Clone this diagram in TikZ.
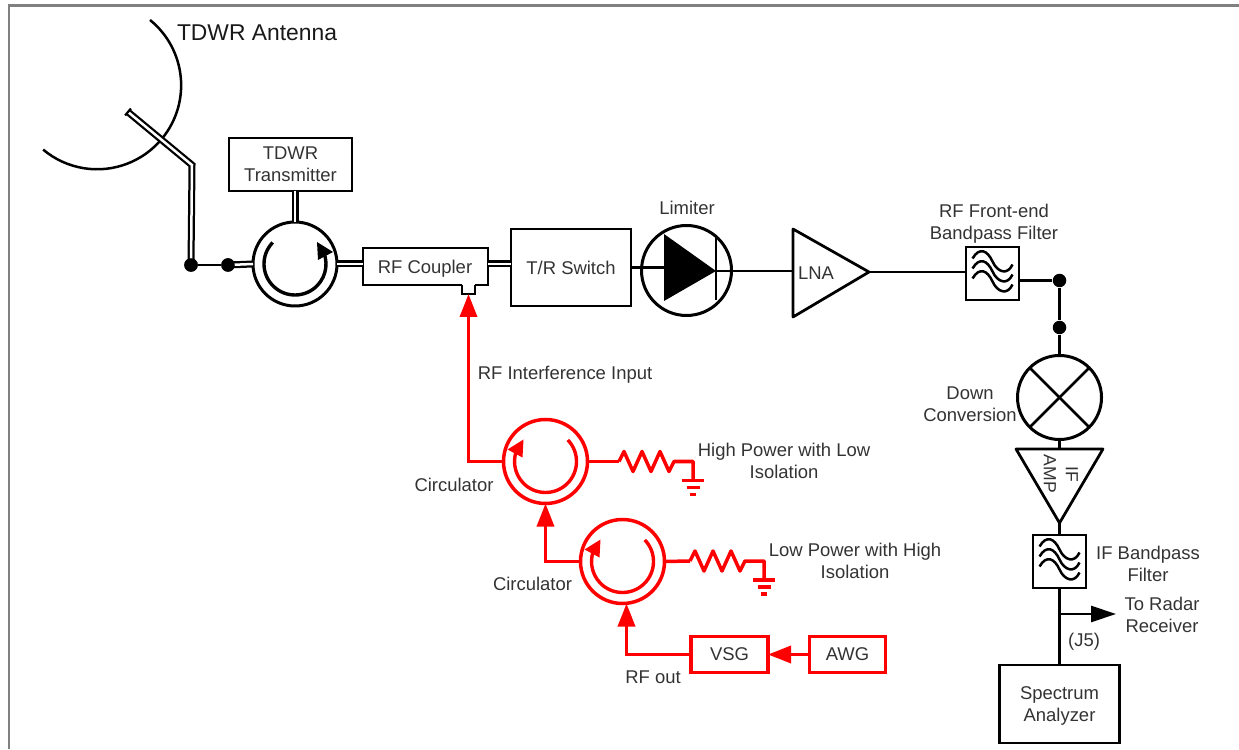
\documentclass[tikz,border=0pt]{standalone}
\usepackage{fontspec}
\setmainfont{Liberation Sans}
\usetikzlibrary{arrows.meta}
\begin{document}
\begin{tikzpicture}
\tikzset{label/.style = {align=center,inner sep=0pt,text=black!80,font=\fontsize{10.5}{12.5}\selectfont}}
\tikzset{box/.style = {shape=rectangle,draw,line width=.055cm,outer sep=0pt,text=black!80,align=center,font=\fontsize{10.5}{12.5}\selectfont}}
\tikzset{ring/.style = {shape=circle,draw,line width=.06cm,inner sep=0pt,outer sep=0pt,minimum size=1.68cm}}
\tikzset{dot/.style = {shape=circle,fill,inner sep=0pt,minimum size=.27cm}}
\tikzset{wire/.style = {line width=.055cm}}
\tikzset{waveguide/.style = {line width=.045cm,double,double distance=.05cm}}
\tikzset{signal/.style = {red,line width=.07cm,-{Triangle[length=.46cm,width=.34cm]}}}
\tikzset{ringarrow/.pic = {
  \draw[line width=.068cm] (136:.62) arc[start angle=136,end angle=390,radius=.62];
  \fill (.44,.44) -- (.76,.24) -- (.46,.08) -- cycle;}}
\tikzset{waves/.pic = {
  \foreach \d in {-.2,0,.2}
    \draw[line width=.05cm] (-.4,.1+\d) .. controls (-.26,.34+\d) and (-.1,.26+\d) .. (0,.04+\d)
      .. controls (.1,-.18+\d) and (.3,-.24+\d) .. (.4,-.02+\d);}}
\tikzset{loadgnd/.pic = {
  \draw[line width=.07cm,line join=round] (0,0) -- (.1,.2) -- (.28,-.2) -- (.46,.2) -- (.64,-.2) -- (.82,.2) -- (1,-.2) -- (1.1,0) -- (1.48,0) -- (1.48,-.38);
  \draw[line width=.07cm] (1.26,-.38) -- (1.7,-.38);
  \draw[line width=.07cm] (1.35,-.52) -- (1.61,-.52);
  \draw[line width=.07cm] (1.42,-.66) -- (1.54,-.66);}}
\useasboundingbox (0,0) rectangle (24.78,14.98);
% frame
\coordinate (fa) at (.18,0);
\coordinate (fb) at (.18,14.87);
\coordinate (fc) at (24.78,14.87);
\draw[gray,line width=.05cm] (fa) -- (fb) -- (fc);
% blocks
\node[dot] (d1) at (3.82,9.68) {};
\node[dot] (d2) at (4.56,9.68) {};
\node[ring] (circ) at (5.9,9.7) {};
\node[box,minimum width=2.46cm,minimum height=1.06cm] (tx) at (5.81,11.69) {TDWR\\Transmitter};
\node[box,minimum width=2.5cm,minimum height=.74cm] (coupler) at (8.51,9.65) {};
\node[fill=white,inner sep=0pt,outer sep=0pt,minimum width=.26cm,minimum height=.26cm] (port) at (9.37,9.23) {};
\node[box,minimum width=2.4cm,minimum height=1.54cm] (tr) at (11.42,9.63) {T/R Switch};
\node[ring,minimum size=1.8cm] (lim) at (13.73,9.57) {};
\node[box,inner sep=0pt,minimum size=1.06cm] (rfbpf) at (19.85,9.51) {};
\node[dot] (d3) at (21.19,9.37) {};
\node[dot] (d4) at (21.19,8.43) {};
\node[ring] (mix) at (21.19,7.03) {};
\node[box,inner sep=0pt,minimum size=1.06cm] (ifbpf) at (21.19,3.75) {};
\node[box,minimum width=2.4cm,minimum height=1.56cm] (sa) at (21.19,.9) {};
\node[ring,red,line width=.07cm] (circa) at (10.91,5.75) {};
\node[ring,red,line width=.07cm] (circb) at (12.45,3.75) {};
\node[box,red,line width=.065cm,minimum width=1.54cm,minimum height=.71cm,text=black!80] (vsg) at (14.59,1.89) {VSG};
\node[box,red,line width=.065cm,minimum width=1.53cm,minimum height=.71cm,text=black!80] (awg) at (16.95,1.89) {AWG};
% free ends and corners
\coordinate (feedtip) at (2.56,12.74);
\coordinate (feedbend) at (3.84,11.68);
\coordinate (dback) at (13.28,9.56);
\coordinate (dtop) at (13.28,10.3);
\coordinate (dlow) at (13.28,8.96);
\coordinate (dtip) at (14.32,9.56);
\coordinate (ltop) at (15.86,10.4);
\coordinate (llow) at (15.86,8.64);
\coordinate (ltip) at (17.38,9.54);
\coordinate (atop) at (20.32,6);
\coordinate (btop) at (22.06,6);
\coordinate (amptip) at (21.19,4.52);
\coordinate (ampin) at (21.19,6);
\coordinate (branch) at (21.19,2.7);
\coordinate (radar) at (22.32,2.7);
\coordinate (loada) at (12.38,5.75);
\coordinate (loadb) at (13.8,3.76);
% symbols
\draw[line width=.05cm] (3,14.58) arc[start angle=51,end angle=-130,radius=1.68];
\pic at (circ) {ringarrow};
\draw[line width=.055cm] (port.west |- coupler.south) -- (port.south west) -- (port.south east) -- (port.east |- coupler.south);
\fill (dtop) -- (dlow) -- (dtip) -- cycle;
\draw[wire] (14.32,10.28) -- (14.32,8.98);
\draw[line width=.055cm,line join=round] (ltop) -- (llow) -- (ltip) -- cycle;
\node[label] (lna) at (16.32,9.52) {LNA};
\pic at (rfbpf) {waves};
\pic at (ifbpf) {waves};
\draw[wire] (mix.45) -- (mix.225);
\draw[wire] (mix.135) -- (mix.315);
\draw[line width=.055cm,line join=round] (atop) -- (btop) -- (amptip) -- cycle;
\node[label,rotate=-90,font=\fontsize{10}{12.5}\selectfont] (amp) at (21.22,5.5) {IF\\AMP};
\pic[red,xscale=-1] at (circa) {ringarrow};
\pic[red,xscale=-1] at (circb) {ringarrow};
\pic[red] at (loada) {loadgnd};
\pic[red] at (loadb) {loadgnd};
% connectors
\draw[waveguide] (feedtip) -- (feedbend) -- (d1.center);
\draw[line width=.045cm] ([shift={(.058,.069)}]feedtip) -- ([shift={(-.058,-.069)}]feedtip);
\draw[waveguide] (d2.center) -- (circ.west);
\node[dot] (d1top) at (d1) {};
\node[dot] (d2top) at (d2) {};
\draw[wire] (d1) -- (d2);
\draw[waveguide] (circ.north |- tx.south) -- (circ.north);
\draw[waveguide] (circ.east) -- (coupler.west |- circ.east);
\draw[waveguide] (coupler.east |- circ.east) -- (tr.west |- circ.east);
\draw[wire] (tr.east) -- (tr.east -| dback);
\draw[wire] (dtip) -- (dtip -| ltop);
\draw[wire] (ltip) -- (rfbpf.west |- ltip);
\draw[wire] (rfbpf.east |- d3) -- (d3) -- (d4) -- (mix.north);
\draw[wire] (mix.south) -- (ampin);
\draw[wire] (amptip) -- (ifbpf.north);
\draw[wire] (ifbpf.south) -- (sa.north);
\draw[wire,-{Triangle[length=.5cm,width=.32cm]}] (branch) -- (radar);
\draw[signal] (circa.west) -| (port.south);
\draw[signal] (circb.west) -| (circa.south);
\draw[signal] (vsg.west) -| ([xshift=.08cm]circb.south);
\draw[signal] (awg.west) -- (vsg.east);
\draw[red,line width=.07cm] (circa.east) -- (loada);
\draw[red,line width=.07cm] (circb.east) -- (loadb);
% labels
\node[label,text=black!90,font=\fontsize{13}{15}\selectfont] (antlbl) at (5.14,14.32) {TDWR Antenna};
\node[label] (couplbl) at (8.5,9.6) {RF Coupler};
\node[label] (salbl) at (21.19,.86) {Spectrum\\Analyzer};
\node[label] (limlbl) at (13.74,10.82) {Limiter};
\node[label] (rflbl) at (19.88,10.5) {RF Front-end\\Bandpass Filter};
\node[label] (downlbl) at (19.4,6.9) {Down\\Conversion};
\node[label] (iflbl) at (22.96,3.7) {IF Bandpass\\Filter};
\node[label] (tolbl) at (23.24,2.68) {To Radar\\Receiver};
\node[label] (jlbl) at (21.68,2.15) {(J5)};
\node[label] (inlbl) at (11.3,7.49) {RF Interference Input};
\node[label] (calbl) at (9.08,5.29) {Circulator};
\node[label] (cblbl) at (10.65,3.3) {Circulator};
\node[label] (hilbl) at (15.68,5.76) {High Power with Low\\Isolation};
\node[label] (lolbl) at (17.1,3.76) {Low Power with High\\Isolation};
\node[label] (outlbl) at (13.06,1.44) {RF out};
\end{tikzpicture}
\end{document}
